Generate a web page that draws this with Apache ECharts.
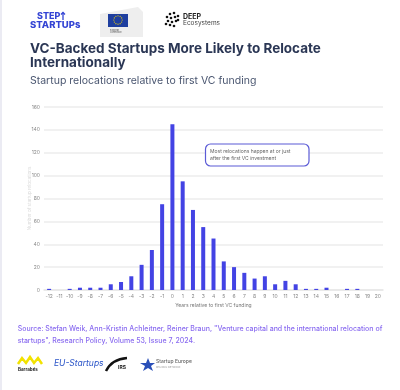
<!DOCTYPE html>
<html><head><meta charset="utf-8">
<style>html,body{margin:0;padding:0;background:#fff}#c{width:400px;height:390px}</style>
<script src="https://cdn.jsdelivr.net/npm/echarts@6/dist/echarts.min.js"></script>
</head><body><div id="c"></div>
<script>
const years = ['-12','-11','-10','-9','-8','-7','-6','-5','-4','-3','-2','-1','0','1','2','3','4','5','6','7','8','9','10','11','12','13','14','15','16','17','18','19','20'];
const relocations = [1,0,1,2,2,2,5,7,12,22,35,75,145,95,70,55,45,25,20,15,10,12,5,8,5,1,1,2,0,1,1,0,0];
const yTicks = {min:0, max:160, interval:20};
const titleLines = ['VC-Backed Startups More Likely to Relocate','Internationally'];
const subtitle = 'Startup relocations relative to first VC funding';
const xName = 'Years relative to first VC funding';
const yName = 'Number of startup relocations';
const note = 'Most relocations happen at or just\nafter the first VC investment';
const sourceText = 'Source: Stefan Weik, Ann-Kristin Achleitner, Reiner Braun, "Venture capital and the international relocation of\nstartups", Research Policy, Volume 53, Issue 7, 2024.';

const chart = echarts.init(document.getElementById('c'), null, {renderer:'canvas'});
const FF = 'Inter, "Open Sans", sans-serif';

const stars = [];
for (let i=0;i<12;i++){
  const a = i/12*Math.PI*2;
  stars.push({type:'circle', z:100, shape:{cx:118+Math.cos(a)*4.2, cy:20+Math.sin(a)*4.2, r:0.6}, style:{fill:'#f5d400'}});
}
const dots = [];
const dotPos = [[170,14],[174,13],[167,17],[171,18],[175,17],[178,16],[168,21],[172,22],[176,21],[170,25],[174,26],[166,24],[178,20]];
dotPos.forEach(p=>dots.push({type:'circle', z:100, shape:{cx:p[0], cy:p[1], r:1.3}, style:{fill:'#111'}}));

chart.setOption({
  animation:false,
  grid:{left:44, right:17, top:107, bottom:100},
  xAxis:{
    type:'category', data:years,
    name:xName, nameLocation:'middle', nameGap:13,
    nameTextStyle:{fontSize:5, color:'#777', fontFamily:FF},
    axisLine:{show:true, lineStyle:{color:'#e6e6e6', width:1.5}},
    axisTick:{show:false},
    axisLabel:{fontSize:5, color:'#888', margin:4, interval:0, fontFamily:FF}
  },
  yAxis:{
    type:'value', min:yTicks.min, max:yTicks.max, interval:yTicks.interval,
    name:yName, nameLocation:'middle', nameGap:12, nameRotate:90, nameMoveOverlap:false,
    nameTextStyle:{fontSize:4.5, color:'#dadada', fontFamily:FF},
    axisLine:{show:false}, axisTick:{show:false},
    axisLabel:{fontSize:5, color:'#888', margin:4, fontFamily:FF},
    splitLine:{lineStyle:{color:'#ececec', width:1.5}}
  },
  series:[{
    type:'bar', data:relocations, barWidth:4,
    itemStyle:{color:'#4343E4'}
  }],
  graphic:[
    {type:'rect', z:100, left:0, top:0, shape:{width:2, height:390}, style:{fill:'#ebebf3'}},
    {type:'text', z:100, left:37, top:12, style:{text:'STEP', font:'800 9px '+FF, fill:'#3444d4'}},
    {type:'text', z:100, left:30, top:20.5, style:{text:'STARTUPs', font:'800 9.5px '+FF, fill:'#3444d4'}},
    {type:'polyline', z:100, shape:{points:[[63,20],[63,12.5]]}, style:{stroke:'#3444d4', lineWidth:1.3}},
    {type:'polyline', z:100, shape:{points:[[61,14.5],[63,12.5],[65,14.5]]}, style:{stroke:'#3444d4', lineWidth:1.3, fill:null}},
    {type:'polygon', z:100, shape:{points:[[100,14],[138,7],[143,12],[143,37],[100,37]]}, style:{fill:'#eeeeee'}},
    {type:'rect', z:100, shape:{x:108,y:14,width:20,height:13}, style:{fill:'#1f3f9f'}},
    ...stars,
    {type:'text', z:100, left:110, top:29, style:{text:'European\nCommission', font:'2px '+FF, fill:'#555', lineHeight:2.5}},
    ...dots,
    {type:'text', z:100, left:183, top:13, style:{text:'DEEP', font:'700 7px '+FF, fill:'#222'}},
    {type:'text', z:100, left:183, top:20, style:{text:'Ecosystems', font:'6.5px '+FF, fill:'#444'}},
    {type:'text', z:100, left:30, top:42, style:{text:titleLines.join('\n'), font:'700 13.5px '+FF, fill:'#2a3654', lineHeight:14}},
    {type:'text', z:100, left:30, top:75, style:{text:subtitle, font:'10.5px '+FF, fill:'#4a5670'}},
    {type:'rect', z:100, shape:{x:205.5, y:144, width:103.5, height:22, r:5}, style:{fill:'#fff', stroke:'#5b5bd6', lineWidth:1.2}},
    {type:'text', z:101, left:210, top:148.5, style:{text:note, font:'5px '+FF, fill:'#666', lineHeight:6.5}},
    {type:'text', z:100, left:'center', top:323, style:{text:sourceText, font:'500 7px '+FF, fill:'#8a6cf0', align:'center', lineHeight:12}},
    {type:'polyline', z:100, shape:{points:[[18,364],[22,358],[26,363],[30,357],[34,363],[38,358],[42,364]]}, style:{stroke:'#f2e200', lineWidth:2.5, fill:null}},
    {type:'text', z:100, left:18, top:367, style:{text:'Barrabés', font:'700 4.5px '+FF, fill:'#222'}},
    {type:'text', z:100, left:54, top:359, style:{text:'EU-Startups', font:'italic 8.5px '+FF, fill:'#2b55c8'}},
    {type:'bezierCurve', z:100, shape:{x1:106, y1:371, cpx1:112, cpy1:359, x2:127, y2:358}, style:{stroke:'#111', lineWidth:2.5, fill:null}},
    {type:'text', z:100, left:118, top:365, style:{text:'IRS', font:'700 5px '+FF, fill:'#222'}},
    {type:'polygon', z:100, shape:{points:[[148,358],[150,363],[155,363],[151,366],[153,371],[148,368],[143,371],[145,366],[140,363],[146,363]]}, style:{fill:'#2a4fb8'}},
    {type:'text', z:100, left:156, top:359, style:{text:'Startup Europe', font:'500 5px '+FF, fill:'#666'}},
    {type:'text', z:100, left:156, top:366, style:{text:'REGIONS NETWORK', font:'2.5px '+FF, fill:'#999'}}
  ]
});
</script></body></html>
